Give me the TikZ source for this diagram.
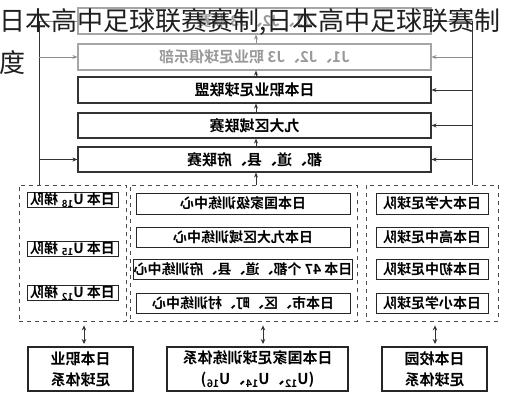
\documentclass[tikz,border=0pt]{standalone}
\usepackage{graphicx}
\usepackage{fontspec}
\setmainfont{Noto Sans CJK SC}[BoldFont={Noto Sans CJK SC Bold}]
\usetikzlibrary{arrows.meta}
\newcommand\mir[1]{\reflectbox{#1}}
\tikzset{
  ubox/.style={draw=black!80, line width=1.1pt, minimum width=353pt, inner sep=0pt, font=\fontsize{15}{15}\selectfont\bfseries},
  gbox/.style={ubox, draw=black!35, text=black!40},
  ibox/.style={draw=black!85, line width=1pt, inner sep=0pt, font=\fontsize{14}{14}\selectfont\bfseries},
  bbox/.style={draw=black!85, line width=1.4pt, inner sep=0pt, align=center, font=\fontsize{15}{21}\selectfont\bfseries},
  grp/.style={draw=black!70, dashed, dash pattern=on 4pt off 4pt, line width=0.8pt, inner sep=0pt},
  conn/.style={draw=black!80, line width=0.8pt},
  arr/.style={conn, -{Stealth[length=5pt,width=4pt]}},
  darr/.style={conn, {Stealth[length=5pt,width=4.5pt]}-{Stealth[length=5pt,width=4.5pt]}, shorten <=3pt, shorten >=4pt},
}
\begin{document}
\begin{tikzpicture}[x=1pt,y=-1pt]
\useasboundingbox (0,0) rectangle (511,400);
% upper stack
\node[gbox, minimum height=26pt] (b1) at (254.5,21) {\mir{J1、J2、J3 联赛}};
\node[gbox, minimum height=26pt] (b2) at (254.5,57) {\mir{J1、J2、J3 职业足球俱乐部}};
\node[ubox, minimum height=26pt] (b3) at (254.5,90) {\mir{日本职业足球联盟}};
\node[ubox, minimum height=25pt] (b4) at (254.5,125.5) {\mir{九大区域联赛}};
\node[ubox, minimum height=25pt] (b5) at (254.5,159.5) {\mir{都、道、县、府联赛}};
% dashed groups
\node[grp, minimum width=107pt, minimum height=136pt] (gL) at (72.5,253) {};
\node[grp, minimum width=227pt, minimum height=136pt] (gM) at (243.5,253) {};
\node[grp, minimum width=132pt, minimum height=136pt] (gR) at (432,253) {};
% left group
\node[ibox, minimum width=91pt, minimum height=14pt] (l1) at (72.5,200) {\mir{日本 U\textsubscript{18} 梯队}};
\node[ibox, minimum width=91pt, minimum height=15pt] (l2) at (72.5,248.5) {\mir{日本 U\textsubscript{15} 梯队}};
\node[ibox, minimum width=91pt, minimum height=14pt] (l3) at (72.5,293) {\mir{日本 U\textsubscript{12} 梯队}};
% middle group
\node[ibox, minimum width=214pt, minimum height=21pt] (m1) at (243,203.5) {\mir{日本国家级训练中心}};
\node[ibox, minimum width=214pt, minimum height=20pt] (m2) at (243,237) {\mir{日本九大区域训练中心}};
\node[ibox, minimum width=214pt, minimum height=20pt] (m3) at (243,269.5) {\mir{日本 47 个都、道、县、府训练中心}};
\node[ibox, minimum width=214pt, minimum height=20pt] (m4) at (243,303) {\mir{日本市、区、町、村训练中心}};
% right group
\node[ibox, minimum width=112pt, minimum height=21pt] (r1) at (432,203.5) {\mir{日本大学足球队}};
\node[ibox, minimum width=112pt, minimum height=20pt] (r2) at (432,237) {\mir{日本高中足球队}};
\node[ibox, minimum width=112pt, minimum height=20pt] (r3) at (432,269.5) {\mir{日本初中足球队}};
\node[ibox, minimum width=112pt, minimum height=20pt] (r4) at (432,303) {\mir{日本小学足球队}};
% bottom boxes
\node[bbox, minimum width=105pt, minimum height=44pt] (d1) at (80.5,369) {\mir{日本职业}\\\mir{足球体系}};
\node[bbox, minimum width=181pt, minimum height=44pt] (d2) at (257.5,369) {\mir{日本国家足球训练体系}\\\mir{(U\textsubscript{12}、U\textsubscript{14}、U\textsubscript{16})}};
\node[bbox, minimum width=105pt, minimum height=44pt] (d3) at (434.5,369) {\mir{日本校园}\\\mir{足球体系}};
% side lines
\coordinate (Lt) at (39,21);
\coordinate (Lb) at (39,185);
\coordinate (Rt) at (472,21);
\coordinate (Rb) at (472,185);
\draw[conn, draw=black!45] (b1.west) -- (Lt);
\draw[conn, draw=black!45] (b1.east) -- (Rt);
\draw[conn] (Lt) -- (Lb);
\draw[conn] (Rt) -- (Rb);
\draw[arr, draw=black!45] (Lt |- b2.west) -- (b2.west);
\draw[arr, draw=black!45] (Rt |- b2.east) -- (b2.east);
\draw[arr] (Rt |- b3.east) -- (b3.east);
\draw[arr] (Rt |- b4.east) -- (b4.east);
\draw[arr] (Lt |- b5.west) -- (b5.west);
\draw[arr] (Rt |- b5.east) -- (b5.east);
% vertical stack arrows
\coordinate (gt) at (256,185);
\draw[arr] (gt) -- (gt |- b5.south);
\draw[arr] (gt |- b5.north) -- (gt |- b4.south);
\draw[arr] (gt |- b4.north) -- (gt |- b3.south);
\draw[arr] (gt |- b3.north) -- (gt |- b2.south);
\draw[arr, draw=black!45] (gt |- b2.north) -- (gt |- b1.south);
% bottom double arrows
\coordinate (a1) at (84,347);
\coordinate (a2) at (263,347);
\coordinate (a3) at (435,347);
\draw[darr] (a1) -- (a1 |- gL.south);
\draw[darr] (a2) -- (a2 |- gM.south);
\draw[darr] (a3) -- (a3 |- gR.south);
% title overlay
\node[anchor=west, inner sep=0pt, text=black!88, font=\fontsize{26}{26}\selectfont] (t1) at (-1,22) {日本高中足球联赛赛制,日本高中足球联赛制};
\node[anchor=west, inner sep=0pt, text=black!88, font=\fontsize{26}{26}\selectfont] (t2) at (-1,63) {度};
\end{tikzpicture}
\end{document}
